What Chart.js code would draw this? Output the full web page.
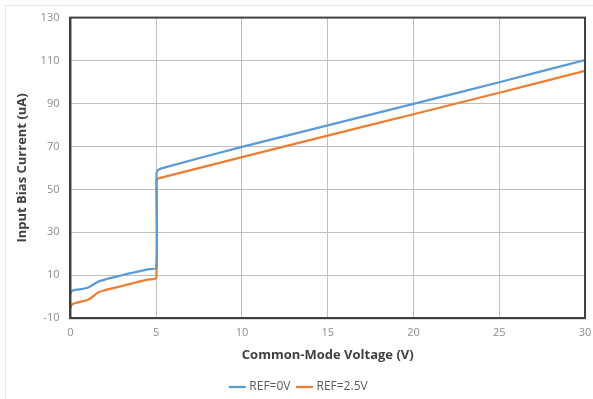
<!DOCTYPE html>
<html>
<head>
<meta charset="utf-8">
<script src="https://cdn.jsdelivr.net/npm/chart.js@4/dist/chart.umd.min.js"></script>
<style>
html,body{margin:0;padding:0;background:#fff;}
#wrap{position:absolute;left:0;top:0;width:593px;height:399px;}
#frame{position:absolute;left:5px;top:5px;width:600px;height:400px;border-left:1px solid #e6e6e6;border-top:1px solid #e6e6e6;}
</style>
</head>
<body>
<div id="frame"></div>
<div id="wrap"><canvas id="c" width="593" height="399"></canvas></div>
<script>
const xTicks = [0, 5, 10, 15, 20, 25, 30];
const yTicks = [-10, 10, 30, 50, 70, 90, 110, 130];
const seriesNames = ["REF=0V", "REF=2.5V"];
const ref0X =   [0,   0.1, 0.5, 1.0, 1.3, 1.6, 2.0, 2.5, 3.0, 3.5, 4.0, 4.5, 5.0, 5.02, 5.1, 5.3, 10, 15, 20, 25, 30];
const ref0Y =   [1.5, 2.8, 3.4, 4.2, 5.5, 7.0, 8.0, 9.0, 10.0, 11.0, 11.8, 12.7, 13.5, 57.5, 59.0, 59.8, 69.8, 79.8, 89.8, 99.9, 110.2];
const ref25X =  [0,   0.1, 0.5, 1.0, 1.3, 1.6, 2.0, 2.5, 3.0, 3.5, 4.0, 4.5, 5.0, 5.02, 5.1, 5.3, 10, 15, 20, 25, 30];
const ref25Y =  [-5.0, -3.5, -2.5, -1.5, 0.0, 2.0, 3.0, 4.0, 5.0, 6.0, 7.0, 8.0, 8.8, 54.0, 55.0, 55.5, 65.0, 75.0, 85.0, 95.0, 105.2];

const toPts = (xs, ys) => xs.map((x, i) => ({x: x, y: ys[i]}));
const FONT = 'Open Sans, Liberation Sans, sans-serif';

new Chart(document.getElementById('c'), {
  type: 'scatter',
  data: {
    datasets: [
      {label: seriesNames[0], data: toPts(ref0X, ref0Y), showLine: true, borderColor: '#5b9bd5', backgroundColor: '#5b9bd5', borderWidth: 2.25, pointRadius: 0, tension: 0.2},
      {label: seriesNames[1], data: toPts(ref25X, ref25Y), showLine: true, borderColor: '#ed7d31', backgroundColor: '#ed7d31', borderWidth: 2.25, pointRadius: 0, tension: 0.2}
    ]
  },
  options: {
    responsive: false,
    animation: false,
    devicePixelRatio: 1,
    layout: {padding: {left: 14, right: 8, top: 16, bottom: -4}},
    plugins: {
      legend: {
        position: 'bottom',
        labels: {
          usePointStyle: true, pointStyle: 'line', boxWidth: 18, color: '#595959',
          font: {family: FONT, size: 12}, padding: 8
        }
      },
      tooltip: {enabled: false}
    },
    scales: {
      x: {
        type: 'linear', min: 0, max: 30,
        afterBuildTicks: (s) => { s.ticks = xTicks.map(v => ({value: v})); },
        afterFit: (s) => { s.paddingRight = 0; },
        ticks: {color: '#8c8c8c', font: {family: FONT, size: 11}, padding: 8},
        grid: {color: '#bfbfbf', lineWidth: 1, drawTicks: false},
        border: {color: '#404040', width: 2},
        title: {display: true, text: 'Common-Mode Voltage (V)', color: '#404040', font: {family: FONT, size: 13, weight: 'bold'}, padding: {top: 0, bottom: 10}}
      },
      y: {
        type: 'linear', min: -10, max: 130,
        afterBuildTicks: (s) => { s.ticks = yTicks.map(v => ({value: v})); },
        ticks: {color: '#8c8c8c', font: {family: FONT, size: 11}, padding: 11},
        grid: {color: '#bfbfbf', lineWidth: 1, drawTicks: false},
        border: {color: '#404040', width: 2},
        title: {display: true, text: 'Input Bias Current (uA)', color: '#404040', font: {family: FONT, size: 13, weight: 'bold'}, padding: {top: 0, bottom: 0}}
      }
    }
  },
  plugins: [{
    id: 'frameBox',
    afterDraw(chart) {
      const {ctx, chartArea: a} = chart;
      ctx.save();
      ctx.strokeStyle = '#404040';
      ctx.lineWidth = 2;
      ctx.strokeRect(a.left, a.top, a.right - a.left, a.bottom - a.top);
      ctx.restore();
    }
  }]
});
</script>
</body>
</html>
